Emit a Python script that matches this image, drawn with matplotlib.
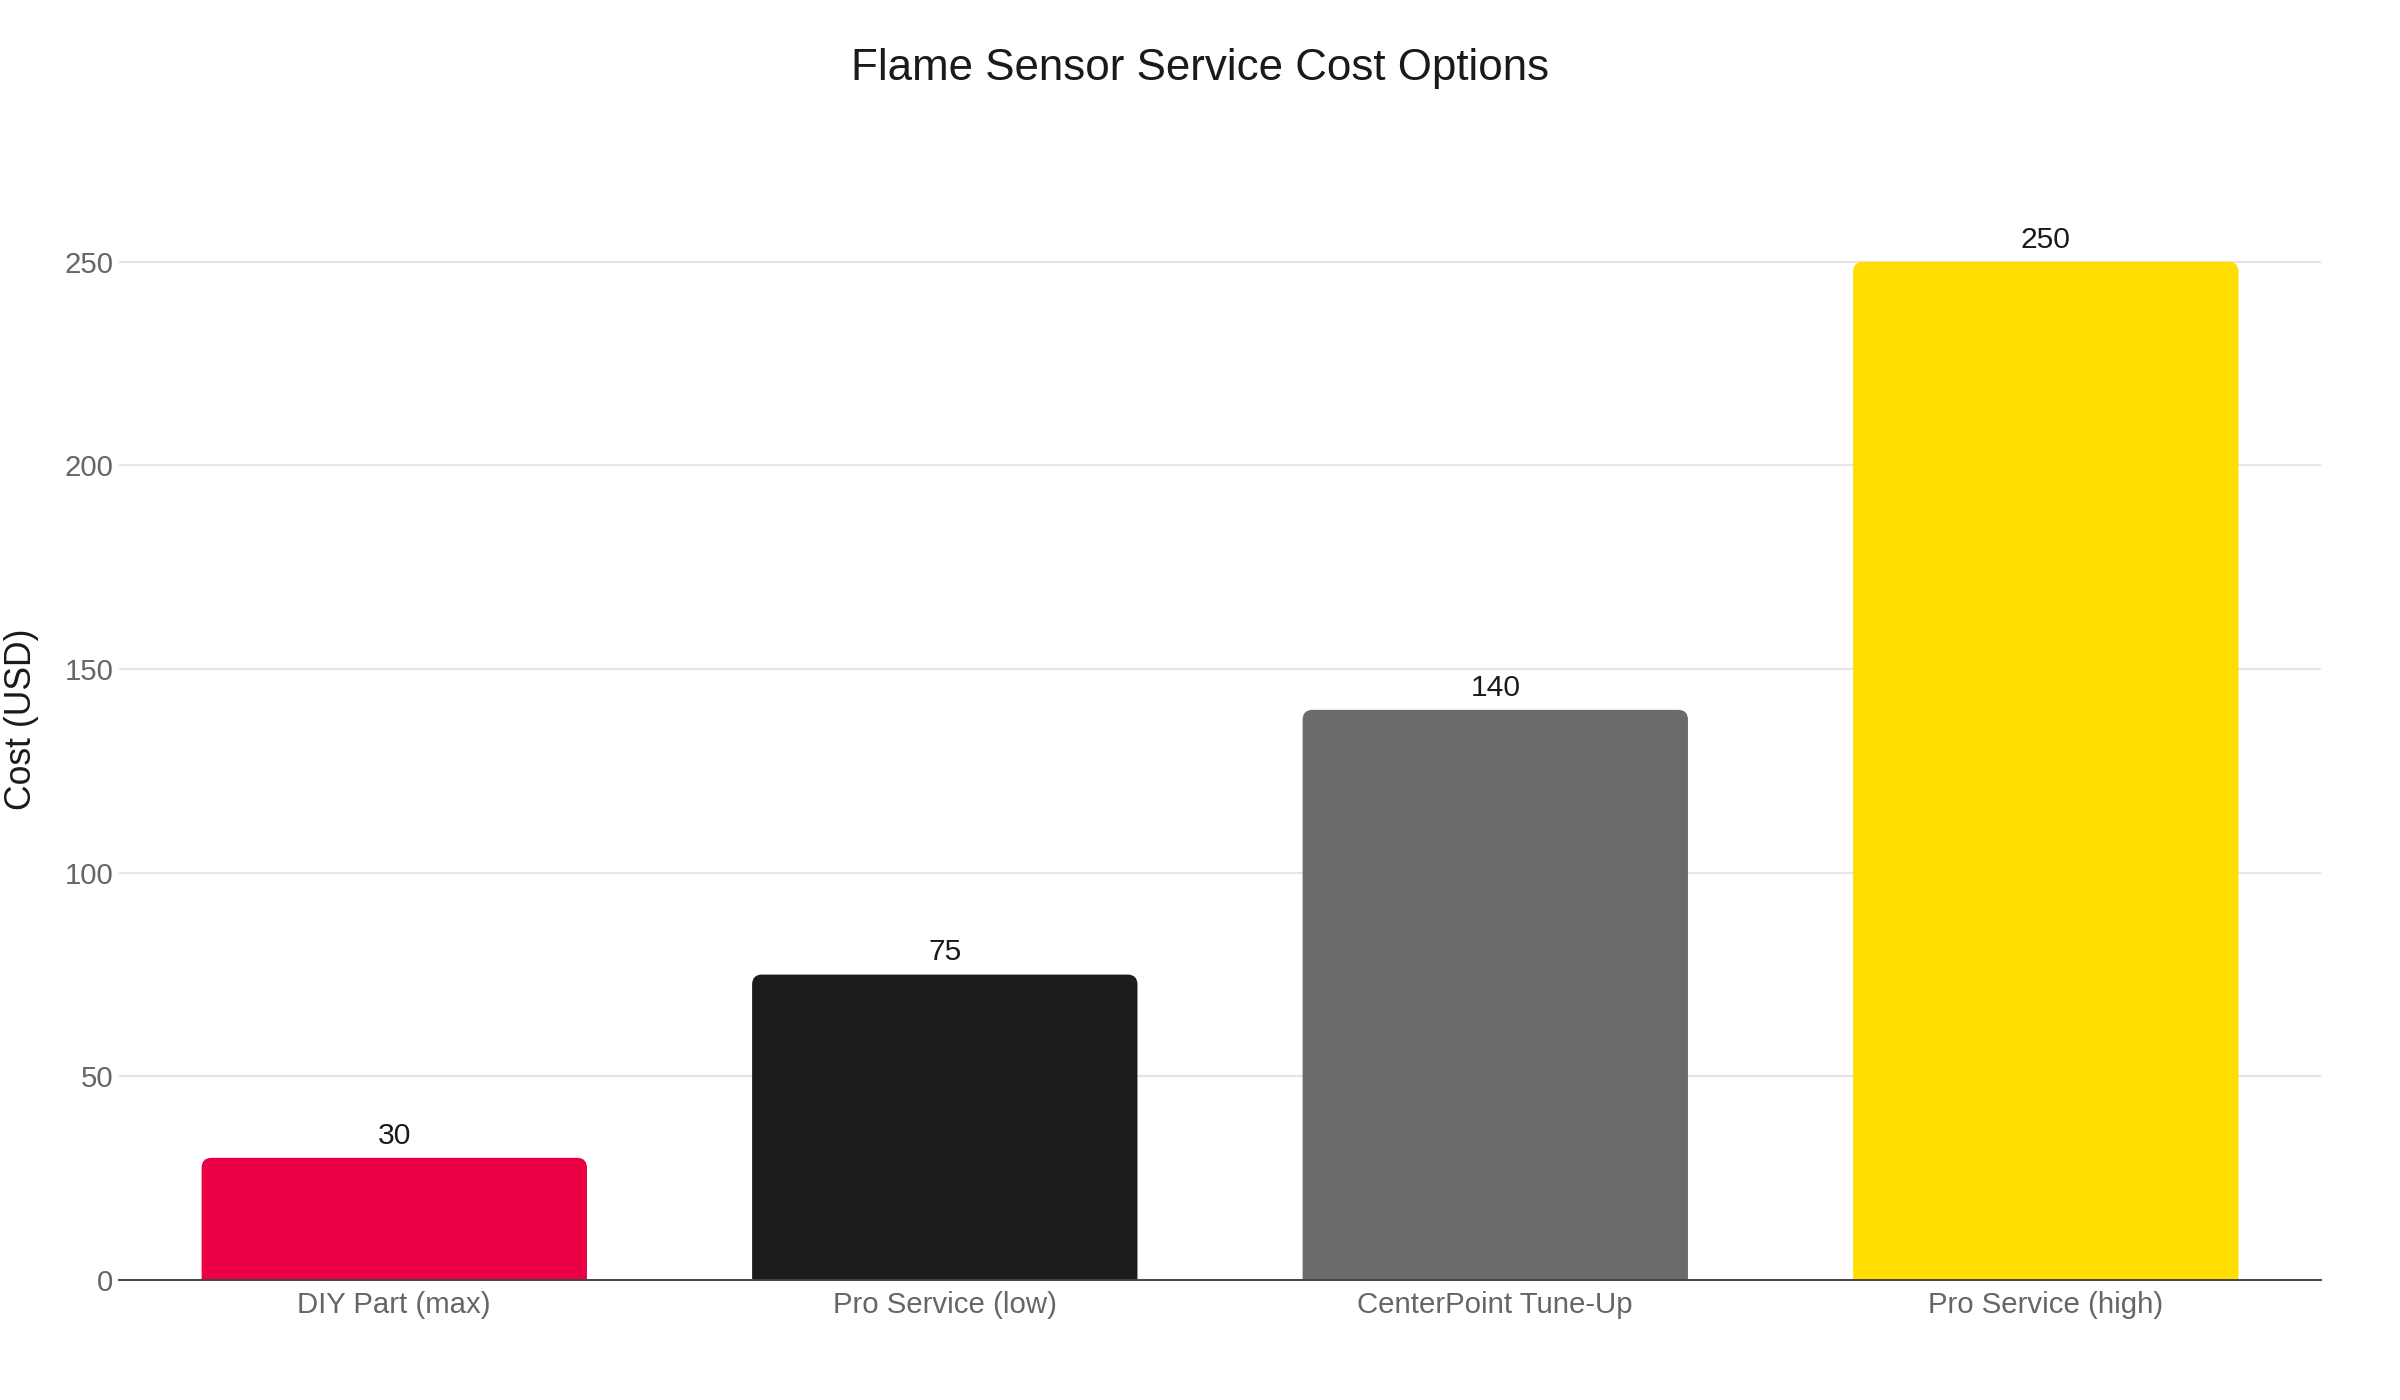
import matplotlib
matplotlib.use("Agg")
import matplotlib.pyplot as plt
from matplotlib.patches import FancyBboxPatch

plt.rcParams['font.family'] = ['Liberation Sans', 'DejaVu Sans']

categories = ["DIY Part (max)", "Pro Service (low)", "CenterPoint Tune-Up", "Pro Service (high)"]
costs = [30, 75, 140, 250]
colors = ["#EB0045", "#1C1C1C", "#6B6B6B", "#FFDD00"]
yticks = [0, 50, 100, 150, 200, 250]
title = "Flame Sensor Service Cost Options"
ylabel = "Cost (USD)"

fig = plt.figure(figsize=(12, 7), dpi=200)
ax = fig.add_axes([0.0496, 0.0857, 0.9175, 0.80])
ax.set_xlim(-0.5, len(categories) - 0.5)
ax.set_ylim(0, 275)

width = 0.7
r = 0.018  # corner radius in x data units
px_per_x = 0.9175 * 2400 / 4
px_per_y = 0.80 * 1400 / 275
aspect = (r * px_per_x / px_per_y) / r

for i, (v, c) in enumerate(zip(costs, colors)):
    ext = r * aspect
    p = FancyBboxPatch((i - width / 2, -ext), width, v + ext,
                       boxstyle=f"round,pad=0,rounding_size={r}",
                       mutation_aspect=aspect, facecolor=c, edgecolor='none',
                       zorder=2)
    ax.add_patch(p)
    ax.annotate(str(v), (i, v), xytext=(0, 3), textcoords='offset points',
                ha='center', va='bottom', fontsize=10.8, color='#1a1a1a')

ax.set_yticks(yticks)
ax.set_yticklabels([str(t) for t in yticks])
ax.set_xticks(range(len(categories)))
ax.set_xticklabels(categories)
ax.tick_params(axis='both', length=0, labelsize=10.6, labelcolor='#666666')
ax.tick_params(axis='y', pad=2)
ax.tick_params(axis='x', pad=4)
ax.yaxis.grid(True, color='#e5e5e5', linewidth=0.75, zorder=0)
ax.set_axisbelow(True)
for s in ['top', 'right', 'left']:
    ax.spines[s].set_visible(False)
ax.spines['bottom'].set_color('#444444')
ax.spines['bottom'].set_linewidth(0.7)
ax.spines['bottom'].set_zorder(3)

fig.text(0.5, 0.951, title, ha='center', va='center', fontsize=15.8, color='#1a1a1a')
fig.text(0.009, 0.486, ylabel, ha='center', va='center', rotation=90, fontsize=12.8, color='#1a1a1a')

fig.savefig("out.png", dpi=200, facecolor='white')
